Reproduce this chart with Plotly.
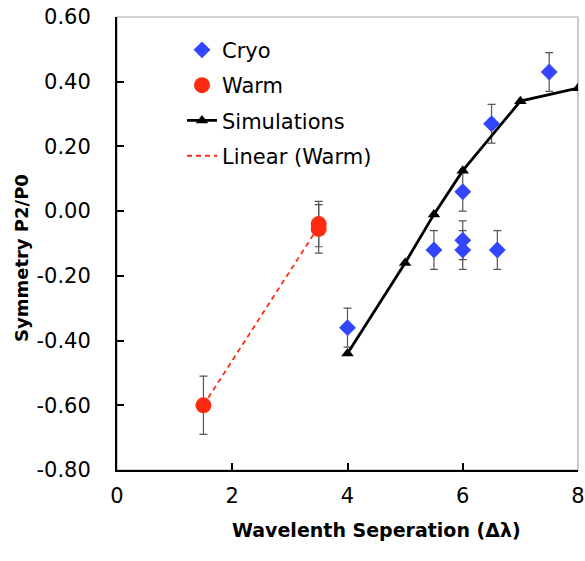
import numpy as np
import plotly.graph_objects as go

# ---- data ----
cryo_x = [4.0, 5.5, 6.0, 6.0, 6.0, 6.5, 6.6, 7.5]
cryo_y = [-0.36, -0.12, 0.06, -0.09, -0.12, 0.27, -0.12, 0.43]
cryo_err = [0.06, 0.06, 0.06, 0.06, 0.06, 0.06, 0.06, 0.06]

warm_x = [1.5, 3.5, 3.5]
warm_y = [-0.60, -0.04, -0.055]
warm_err = [0.09, 0.07, 0.075]

sim_x = [4.0, 5.0, 5.5, 6.0, 7.0, 8.0]
sim_y = [-0.44, -0.16, -0.01, 0.125, 0.34, 0.38]

y_tickvals = [-0.8, -0.6, -0.4, -0.2, 0.0, 0.2, 0.4, 0.6]
y_ticktext = ["-0.80", "-0.60", "-0.40", "-0.20", "0.00", "0.20", "0.40", "0.60"]
x_tickvals = [0, 2, 4, 6, 8]
x_ticktext = ["0", "2", "4", "6", "8"]

# linear trendline fitted to warm data
slope, intercept = np.polyfit(warm_x, warm_y, 1)
lin_x = [min(warm_x), max(warm_x)]
lin_y = [slope * v + intercept for v in lin_x]

FONT = "'DejaVu Sans', sans-serif"
BLUE = "#3346FF"
RED = "#FF2B10"
ERR = "#555555"

fig = go.Figure()

fig.add_trace(go.Scatter(
    x=cryo_x, y=cryo_y, mode="markers", name="Cryo",
    marker=dict(symbol="diamond", size=13, color=BLUE),
    error_y=dict(type="data", array=cryo_err, color=ERR, thickness=1.2, width=4),
    legendgroup="a",
))
fig.add_trace(go.Scatter(
    x=warm_x, y=warm_y, mode="markers", name="Warm",
    marker=dict(symbol="circle", size=16, color=RED),
    error_y=dict(type="data", array=warm_err, color=ERR, thickness=1.2, width=4),
    legendgroup="b",
))
fig.add_trace(go.Scatter(
    x=sim_x, y=sim_y, mode="lines+markers", name="Simulations",
    line=dict(color="black", width=2.8),
    marker=dict(symbol="triangle-up", size=11, color="black"),
    legendgroup="c",
))
fig.add_trace(go.Scatter(
    x=lin_x, y=lin_y, mode="lines", name="Linear (Warm)",
    line=dict(color=RED, width=1.8, dash="5px,4px"),
    legendgroup="d",
))

# gray plot-area frame
fig.add_shape(type="rect", xref="paper", yref="paper", x0=0, x1=1, y0=0, y1=1,
              line=dict(color="#AAAAAA", width=1.2), layer="below")

fig.update_layout(
    width=585, height=561,
    margin=dict(l=117, r=7, t=17, b=91, autoexpand=False),
    paper_bgcolor="white", plot_bgcolor="white",
    font=dict(family=FONT, size=21, color="black"),
    showlegend=True,
    legend=dict(x=0.141, y=0.972, xanchor="left", yanchor="top",
                font=dict(size=21, family=FONT), bgcolor="rgba(0,0,0,0)",
                tracegroupgap=5, traceorder="grouped"),
    xaxis=dict(range=[0, 8], tickvals=x_tickvals, ticktext=x_ticktext,
               ticks="inside", ticklen=7, tickwidth=1.5, tickcolor="black",
               showline=True, linecolor="black", linewidth=2,
               showgrid=False, zeroline=False, ticklabelstandoff=6,
               ticklabeloverflow="allow",
               automargin=False, tickfont=dict(size=21)),
    yaxis=dict(range=[-0.8, 0.6], tickvals=y_tickvals, ticktext=y_ticktext,
               ticks="inside", ticklen=7, tickwidth=1.5, tickcolor="black",
               showline=True, linecolor="black", linewidth=2,
               showgrid=False, zeroline=False, ticklabelstandoff=20,
               ticklabeloverflow="allow",
               automargin=False, tickfont=dict(size=21)),
    annotations=[
        dict(text="<b>Wavelenth Seperation (Δλ)</b>", xref="paper", yref="paper",
             x=0.563, y=-0.132, xanchor="center", yanchor="middle",
             showarrow=False, font=dict(size=19)),
        dict(text="<b>Symmetry P2/P0</b>", xref="paper", yref="paper",
             x=-0.206, y=0.468, xanchor="center", yanchor="middle",
             textangle=-90, showarrow=False, font=dict(size=18)),
    ],
)

# remove the default 8px page margin so the figure sits at the window's corner
fig.write_html("out.html", config={"displayModeBar": False},
               post_script="document.body.style.margin='0';")
